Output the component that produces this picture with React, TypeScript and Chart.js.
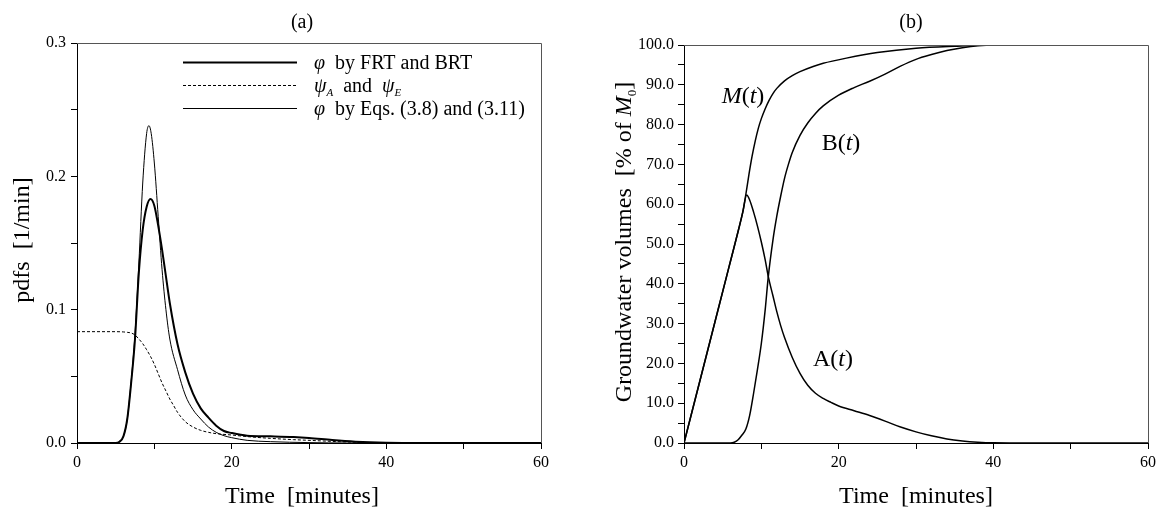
import { useEffect, useRef } from 'react';
import { Chart, registerables } from 'chart.js';

Chart.register(...registerables);

const SERIF = "'Liberation Serif', 'Times New Roman', serif";

// ---------- Panel (a) data ----------
const tPhiFRT = [0, 5, 5.5, 6, 6.5, 7, 7.5, 8, 8.5, 9, 9.5, 10, 10.5, 11, 11.5, 12, 13, 14, 15, 16, 17, 18, 19, 20, 22, 25, 28, 30, 33, 36, 40, 45, 60];
const phiFRT = [0, 0, 0.001, 0.005, 0.018, 0.045, 0.078, 0.128, 0.16, 0.177, 0.183, 0.178, 0.163, 0.145, 0.125, 0.105, 0.074, 0.053, 0.037, 0.026, 0.019, 0.013, 0.009, 0.0075, 0.0055, 0.005, 0.0045, 0.0038, 0.0022, 0.001, 0.0002, 0, 0];

const tPhiEq = [0, 5, 5.5, 6, 6.5, 7, 7.5, 8, 8.5, 9, 9.3, 9.6, 10, 10.5, 11, 11.5, 12, 13, 14, 15, 16, 17, 18, 19, 20, 22, 25, 30, 35, 60];
const phiEq = [0, 0, 0.001, 0.005, 0.018, 0.046, 0.082, 0.135, 0.195, 0.232, 0.238, 0.232, 0.21, 0.17, 0.13, 0.1, 0.078, 0.055, 0.036, 0.025, 0.018, 0.012, 0.008, 0.0055, 0.004, 0.002, 0.001, 0.0003, 0, 0];

const tPsi = [0, 5, 6, 6.5, 7, 7.5, 8, 8.5, 9, 9.5, 10, 10.5, 11, 11.5, 12, 12.5, 13, 14, 15, 16, 17, 18, 20, 22, 25, 28, 30, 33, 36, 40, 45, 60];
const psi = [0.0835, 0.0835, 0.0833, 0.083, 0.0825, 0.081, 0.078, 0.0745, 0.07, 0.065, 0.059, 0.052, 0.045, 0.039, 0.033, 0.028, 0.023, 0.016, 0.012, 0.0095, 0.008, 0.007, 0.006, 0.0048, 0.0035, 0.0025, 0.002, 0.0012, 0.0006, 0.0002, 0, 0];

// ---------- Panel (b) data ----------
const tM = [0, 2, 4, 6, 7, 7.6, 8, 8.4, 8.8, 9.2, 9.6, 10, 10.5, 11, 11.5, 12, 13, 14, 15, 16.7, 18, 21, 25, 30, 35, 40, 60];
const mVals = [0, 15.2, 30.4, 45.6, 53.2, 58, 62.5, 67.5, 72, 75.8, 79, 81.5, 84, 86.1, 87.8, 89.1, 91, 92.3, 93.3, 94.6, 95.4, 96.7, 98.1, 99.2, 99.7, 100, 100];

const tA = [0, 2, 4, 6, 7, 7.6, 8.1, 8.5, 9, 9.5, 10, 10.5, 10.9, 11.5, 12, 12.5, 13, 14, 15, 16, 17, 18, 19, 20, 22, 24, 26, 28, 30, 32, 34, 36, 38, 40, 45, 60];
const aVals = [0, 15.2, 30.4, 45.6, 53.2, 58, 62.3, 61, 58, 54.5, 50.5, 46, 41.8, 37, 33, 29.5, 26.5, 21.5, 17.5, 14.5, 12.5, 11.2, 10.2, 9.3, 8.1, 6.9, 5.5, 4, 2.8, 1.8, 1, 0.5, 0.2, 0.05, 0, 0];

const tB = [0, 6, 6.5, 7, 7.5, 8, 8.5, 9, 9.5, 10, 10.5, 10.9, 11.5, 12, 12.5, 13, 13.5, 14, 15, 16, 17, 18, 20, 22, 24, 26, 28, 30, 32, 34, 36, 38, 40, 60];
const bVals = [0, 0, 0.2, 0.8, 2, 3.5, 7, 12.5, 18.5, 25, 33.5, 41.8, 51, 57, 62, 66.5, 70, 73, 77.3, 80.4, 82.8, 84.7, 87.4, 89.3, 90.9, 92.7, 94.7, 96.4, 97.6, 98.6, 99.3, 99.8, 100, 100];

// tick settings
const xMax = 60;
const xStep = 10;
const xLabelEvery = 20;
const yMaxA = 0.3;
const yStepA = 0.05;
const yMaxB = 100;
const yStepB = 5;

type Seg = { t: string; i?: boolean; sub?: boolean };

function segFont(s: Seg, size: number) {
  const sz = s.sub ? Math.round(size * 0.55) : size;
  return `${s.i ? 'italic ' : ''}${sz}px ${SERIF}`;
}

function drawRich(ctx: CanvasRenderingContext2D, segs: Seg[], x: number, y: number, size: number, align: 'left' | 'center') {
  let total = 0;
  const widths = segs.map((s) => {
    ctx.font = segFont(s, size);
    const w = ctx.measureText(s.t).width;
    total += w;
    return w;
  });
  let cx = align === 'center' ? x - total / 2 : x;
  ctx.textAlign = 'left';
  ctx.textBaseline = 'alphabetic';
  ctx.fillStyle = '#000';
  segs.forEach((s, k) => {
    ctx.font = segFont(s, size);
    ctx.fillText(s.t, cx, s.sub ? y + size * 0.22 : y);
    cx += widths[k];
  });
}

function pts(ts: number[], vs: number[]) {
  return ts.map((t, k) => ({ x: t, y: vs[k] }));
}

function frame(chart: any) {
  const ctx = chart.ctx as CanvasRenderingContext2D;
  const a = chart.chartArea;
  ctx.save();
  ctx.strokeStyle = '#555';
  ctx.lineWidth = 1;
  ctx.beginPath();
  ctx.moveTo(Math.round(a.left), Math.round(a.top) + 0.5);
  ctx.lineTo(Math.round(a.right) + 0.5, Math.round(a.top) + 0.5);
  ctx.lineTo(Math.round(a.right) + 0.5, Math.round(a.bottom));
  ctx.stroke();
  ctx.restore();
}

function xScale(height: number) {
  return {
    type: 'linear' as const,
    min: 0,
    max: xMax,
    afterFit: (s: any) => { s.height = height; },
    ticks: {
      stepSize: xStep,
      autoSkip: false,
      maxRotation: 0,
      padding: 4,
      color: '#000',
      font: { family: SERIF, size: 16 },
      callback: (v: any) => (Math.round(v) % xLabelEvery === 0 ? String(Math.round(v)) : ''),
    },
    grid: { display: true, drawOnChartArea: false, drawTicks: true, tickLength: 6, tickColor: '#000', tickWidth: 1 },
    border: { display: true, color: '#000', width: 1 },
  };
}

function makeLeft(): any {
  return {
    type: 'line',
    data: {
      datasets: [
        { label: 'phi FRT', data: pts(tPhiFRT, phiFRT), borderColor: '#000', borderWidth: 2, pointRadius: 0, cubicInterpolationMode: 'monotone', fill: false },
        { label: 'psi', data: pts(tPsi, psi), borderColor: '#000', borderWidth: 1, borderDash: [3, 2], pointRadius: 0, cubicInterpolationMode: 'monotone', fill: false },
        { label: 'phi Eq', data: pts(tPhiEq, phiEq), borderColor: '#000', borderWidth: 1, pointRadius: 0, cubicInterpolationMode: 'monotone', fill: false },
      ],
    },
    options: {
      responsive: false,
      animation: false,
      devicePixelRatio: 1,
      layout: { padding: { top: 43, right: 42, left: 0, bottom: 0 } },
      plugins: { legend: { display: false }, tooltip: { enabled: false }, title: { display: false } },
      scales: {
        x: xScale(70),
        y: {
          type: 'linear',
          min: 0,
          max: yMaxA,
          afterFit: (s: any) => { s.width = 77; },
          ticks: {
            stepSize: yStepA,
            autoSkip: false,
            padding: 5,
            color: '#000',
            font: { family: SERIF, size: 16 },
            callback: (v: any) => {
              const k = Math.round(v / yStepA);
              return k % 2 === 0 ? (k * yStepA).toFixed(1) : '';
            },
          },
          grid: { display: true, drawOnChartArea: false, drawTicks: true, tickLength: 6, tickColor: '#000', tickWidth: 1 },
          border: { display: true, color: '#000', width: 1 },
        },
      },
    },
    plugins: [
      {
        id: 'decorA',
        afterDraw(chart: any) {
          const ctx = chart.ctx as CanvasRenderingContext2D;
          frame(chart);
          ctx.save();
          drawRich(ctx, [{ t: '(a)' }], 302, 28, 20, 'center');
          drawRich(ctx, [{ t: 'Time  [minutes]' }], 302, 503, 24, 'center');
          ctx.save();
          ctx.translate(21, 240);
          ctx.rotate(-Math.PI / 2);
          drawRich(ctx, [{ t: 'pdfs  [1/min]' }], 0, 8, 24, 'center');
          ctx.restore();
          const rows = [62, 85, 108];
          const x0 = 183, x1 = 297, tx = 314, fs = 20;
          ctx.strokeStyle = '#000';
          ctx.lineWidth = 2;
          ctx.beginPath(); ctx.moveTo(x0, rows[0] + 0.5); ctx.lineTo(x1, rows[0] + 0.5); ctx.stroke();
          ctx.lineWidth = 1;
          ctx.setLineDash([3, 2]);
          ctx.beginPath(); ctx.moveTo(x0, rows[1] + 0.5); ctx.lineTo(x1, rows[1] + 0.5); ctx.stroke();
          ctx.setLineDash([]);
          ctx.beginPath(); ctx.moveTo(x0, rows[2] + 0.5); ctx.lineTo(x1, rows[2] + 0.5); ctx.stroke();
          drawRich(ctx, [{ t: 'φ', i: true }, { t: '  by FRT and BRT' }], tx, rows[0] + 7, fs, 'left');
          drawRich(ctx, [{ t: 'ψ', i: true }, { t: 'A', i: true, sub: true }, { t: '  and  ' }, { t: 'ψ', i: true }, { t: 'E', i: true, sub: true }], tx, rows[1] + 7, fs, 'left');
          drawRich(ctx, [{ t: 'φ', i: true }, { t: '  by Eqs. (3.8) and (3.11)' }], tx, rows[2] + 7, fs, 'left');
          ctx.restore();
        },
      },
    ],
  };
}

function makeRight(): any {
  return {
    type: 'line',
    data: {
      datasets: [
        { label: 'M', data: pts(tM, mVals), borderColor: '#000', borderWidth: 1.5, pointRadius: 0, cubicInterpolationMode: 'monotone', fill: false },
        { label: 'A', data: pts(tA, aVals), borderColor: '#000', borderWidth: 1.5, pointRadius: 0, cubicInterpolationMode: 'monotone', fill: false },
        { label: 'B', data: pts(tB, bVals), borderColor: '#000', borderWidth: 1.5, pointRadius: 0, cubicInterpolationMode: 'monotone', fill: false },
      ],
    },
    options: {
      responsive: false,
      animation: false,
      devicePixelRatio: 1,
      layout: { padding: { top: 45, right: 19, left: 0, bottom: 0 } },
      plugins: { legend: { display: false }, tooltip: { enabled: false }, title: { display: false } },
      scales: {
        x: xScale(70),
        y: {
          type: 'linear',
          min: 0,
          max: yMaxB,
          afterFit: (s: any) => { s.width = 101; },
          ticks: {
            stepSize: yStepB,
            autoSkip: false,
            padding: 4,
            color: '#000',
            font: { family: SERIF, size: 16 },
            callback: (v: any) => {
              const k = Math.round(v / yStepB);
              return k % 2 === 0 ? (k * yStepB).toFixed(1) : '';
            },
          },
          grid: { display: true, drawOnChartArea: false, drawTicks: true, tickLength: 6, tickColor: '#000', tickWidth: 1 },
          border: { display: true, color: '#000', width: 1 },
        },
      },
    },
    plugins: [
      {
        id: 'decorB',
        afterDraw(chart: any) {
          const ctx = chart.ctx as CanvasRenderingContext2D;
          frame(chart);
          ctx.save();
          drawRich(ctx, [{ t: '(b)' }], 328, 28, 20, 'center');
          drawRich(ctx, [{ t: 'Time  [minutes]' }], 333, 503, 24, 'center');
          ctx.save();
          ctx.translate(40, 242);
          ctx.rotate(-Math.PI / 2);
          drawRich(ctx, [{ t: 'Groundwater volumes  [% of ' }, { t: 'M', i: true }, { t: '0', sub: true }, { t: ']' }], 0, 8, 24, 'center');
          ctx.restore();
          drawRich(ctx, [{ t: 'M', i: true }, { t: '(' }, { t: 't', i: true }, { t: ')' }], 160, 103, 24, 'center');
          drawRich(ctx, [{ t: 'B(' }, { t: 't', i: true }, { t: ')' }], 258, 150, 24, 'center');
          drawRich(ctx, [{ t: 'A(' }, { t: 't', i: true }, { t: ')' }], 250, 366, 24, 'center');
          ctx.restore();
        },
      },
    ],
  };
}

export default function App() {
  const r1 = useRef<HTMLCanvasElement>(null);
  const r2 = useRef<HTMLCanvasElement>(null);
  useEffect(() => {
    const c1 = new Chart(r1.current!, makeLeft());
    const c2 = new Chart(r2.current!, makeRight());
    return () => {
      c1.destroy();
      c2.destroy();
    };
  }, []);
  return (
    <div style={{ position: 'absolute', left: 0, top: 0, width: 1167, height: 513, background: '#fff' }}>
      <canvas ref={r1} width={583} height={513} style={{ position: 'absolute', left: 0, top: 0 }} />
      <canvas ref={r2} width={584} height={513} style={{ position: 'absolute', left: 583, top: 0 }} />
    </div>
  );
}
